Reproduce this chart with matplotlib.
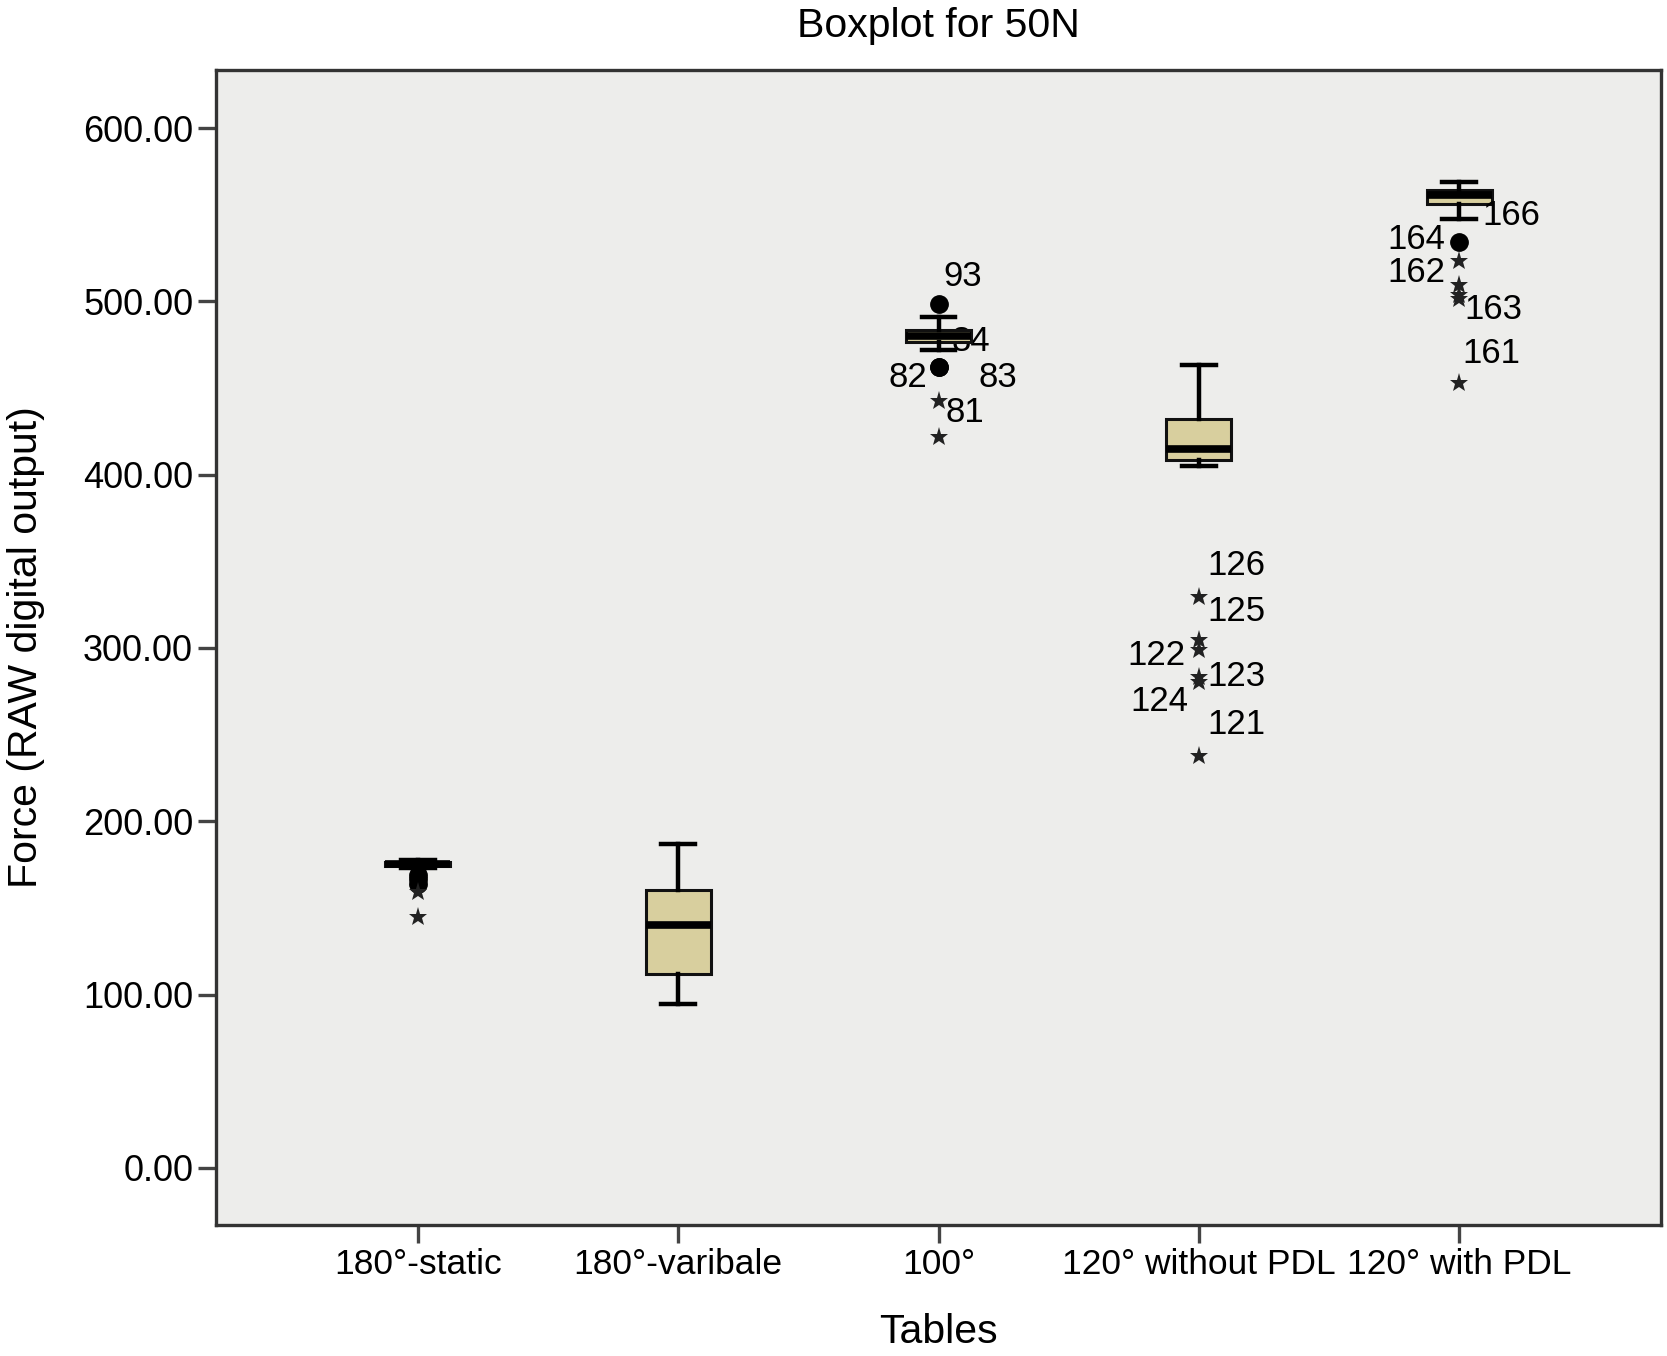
import matplotlib
matplotlib.use("Agg")
import matplotlib.pyplot as plt

plt.rcParams['font.family'] = ['Liberation Sans', 'DejaVu Sans']

# ---------------- data ----------------
categories = ['180°-static', '180°-varibale', '100°', '120° without PDL', '120° with PDL']
whisker_low = [173.0, 94.3, 471.8, 404.9, 547.3]
q1 = [174.0, 112.1, 476.6, 408.7, 556.4]
median = [175.2, 140.0, 480.0, 415.0, 561.5]
q3 = [176.3, 160.6, 483.3, 432.3, 564.1]
whisker_high = [177.5, 186.7, 491.0, 463.1, 568.9]

# outliers (circles) and extremes (stars) per category
outliers = [[169.0, 166.5, 164.0], [], [498.7, 462.1, 462.1], [], [534.3]]
extremes = [[159.2, 144.8], [], [442.3, 421.8],
            [329.4, 304.4, 298.7, 283.3, 280.4, 237.5],
            [523.1, 509.3, 503.5, 501.5, 453.1]]

# case labels
label_group = [3, 3, 3, 3, 3, 4, 4, 4, 4, 4, 4, 5, 5, 5, 5, 5]
label_value = [498.7, 477.0, 462.1, 462.1, 442.3,
               329.4, 304.4, 298.7, 283.3, 280.4, 237.5,
               547.3, 534.3, 523.1, 502.6, 453.1]
label_text = ['93', '84', '82', '83', '81',
              '126', '125', '122', '123', '124', '121',
              '166', '164', '162', '163', '161']
y_ticks = [0, 100, 200, 300, 400, 500, 600]

# label placement (pixels; dy positive = down)
label_dx = [5, 13, -11, 40, 7, 9, 9, -13, 9, -10, 9, 23, -14, -14, 5, 3]
label_dy = [-27, 0, 10, 10, 11, -31, -29, 5, 0, 20, -32, -4, -2, 11, 13, -29]

# ---------------- figure ----------------
fig = plt.figure(figsize=(16.67, 13.56), dpi=100)
ax = fig.add_axes([0.1296, 0.0966, 0.8668, 0.8518])
ax.set_facecolor('#EDEDEB')

positions = list(range(1, len(categories) + 1))
stats = []
for i in range(len(categories)):
    stats.append(dict(whislo=whisker_low[i], q1=q1[i], med=median[i], q3=q3[i],
                      whishi=whisker_high[i], fliers=[]))

ax.bxp(stats, positions=positions, widths=0.25, patch_artist=True,
       showfliers=False, manage_ticks=False,
       boxprops=dict(facecolor='#D8CF9E', edgecolor='#111111', linewidth=2.2),
       medianprops=dict(color='#000000', linewidth=5.5, solid_capstyle='butt'),
       whiskerprops=dict(color='#000000', linewidth=3.2),
       capprops=dict(color='#000000', linewidth=3.2),
       capwidths=0.13, zorder=3)

for i, p in enumerate(positions):
    if outliers[i]:
        ax.plot([p] * len(outliers[i]), outliers[i], linestyle='none', marker='o',
                markersize=12.5, color='#000000', zorder=4)
    if extremes[i]:
        ax.plot([p] * len(extremes[i]), extremes[i], linestyle='none', marker='*',
                markersize=14, color='#222222', markeredgewidth=0, zorder=4)

for g, v, t, dx, dy in zip(label_group, label_value, label_text, label_dx, label_dy):
    ax.annotate(t, xy=(g, v), xytext=(dx, -dy), textcoords='offset pixels',
                ha='left' if dx > 0 else 'right', va='center', fontsize=25,
                color='#000000', zorder=2 if t == '84' else 5)

ax.set_xlim(0.225, 5.775)
ax.set_ylim(-33, 633.5)
ax.set_xticks(positions)
ax.set_xticklabels(categories, fontsize=25.5)
ax.set_yticks(y_ticks)
ax.set_yticklabels([f'{v:.2f}' for v in y_ticks], fontsize=26)
ax.tick_params(axis='both', length=13, width=2.4, color='#444444', pad=3.5)

for s in ax.spines.values():
    s.set_linewidth(2.4)
    s.set_color('#333333')

ax.set_title('Boxplot for 50N', fontsize=29.5, pad=24)
ax.set_xlabel('Tables', fontsize=29.5, labelpad=23)
ax.set_ylabel('Force (RAW digital output)', fontsize=29.5, labelpad=27)

fig.savefig('out.png', dpi=100, facecolor='white')
